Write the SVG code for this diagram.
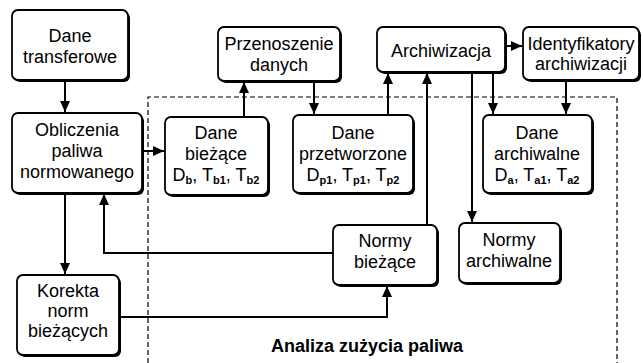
<svg xmlns="http://www.w3.org/2000/svg" width="643" height="363" viewBox="0 0 643 363">
<style>
.bx{fill:#fff;stroke:#000;stroke-width:1.8}
.sh{fill:#000}
.t{font-family:"Liberation Sans",Arial,sans-serif;font-size:18px;text-anchor:middle;fill:#000}
.s{font-size:11px;font-weight:bold}
.c{fill:none;stroke:#000;stroke-width:2}
.d{fill:none;stroke:#000;stroke-width:1.2;stroke-dasharray:5,3}
.b{font-family:"Liberation Sans",Arial,sans-serif;font-size:18px;font-weight:bold;text-anchor:middle}
</style>
<defs>
<marker id="a" markerUnits="userSpaceOnUse" markerWidth="12" markerHeight="12" viewBox="0 0 12 12" refX="11" refY="6" orient="auto">
<path d="M0,1 L11,6 L0,11 Z" fill="#000"/>
</marker>
</defs>
<rect width="643" height="363" fill="#fff"/>
<path class="d" d="M148,363 V97 H617 V363"/>
<g id="connectors">
<path class="c" d="M65,80 V112" marker-end="url(#a)"/>
<path class="c" d="M142,151 H164" marker-end="url(#a)"/>
<path class="c" d="M244,117 V82" marker-end="url(#a)"/>
<path class="c" d="M314,81 V114" marker-end="url(#a)"/>
<path class="c" d="M388,115 V73" marker-end="url(#a)"/>
<path class="c" d="M427,225 V73" marker-end="url(#a)"/>
<path class="c" d="M472,72 V222" marker-end="url(#a)"/>
<path class="c" d="M493,72 V114" marker-end="url(#a)"/>
<path class="c" d="M505,46 H522" marker-end="url(#a)"/>
<path class="c" d="M566,80 V114" marker-end="url(#a)"/>
<path class="c" d="M333,253 H104 V194" marker-end="url(#a)"/>
<path class="c" d="M65,193 V274" marker-end="url(#a)"/>
<path class="c" d="M119,317 H387 V286" marker-end="url(#a)"/>
</g>
<g id="dane-transferowe">
<rect class="sh" x="14" y="12" width="116" height="70" rx="6"/>
<rect class="bx" x="12" y="10" width="116" height="70" rx="6"/>
<text class="t" x="70" y="42">Dane</text>
<text class="t" x="70" y="63">transferowe</text>
</g>
<g id="obliczenia">
<rect class="sh" x="14" y="115" width="130" height="80" rx="6"/>
<rect class="bx" x="12" y="113" width="130" height="80" rx="6"/>
<text class="t" x="77" y="136">Obliczenia</text>
<text class="t" x="77" y="157">paliwa</text>
<text class="t" x="77" y="178">normowanego</text>
</g>
<g id="dane-biezace">
<rect class="sh" x="167" y="119" width="103" height="78" rx="6"/>
<rect class="bx" x="165" y="117" width="103" height="78" rx="6"/>
<text class="t" x="216" y="139">Dane</text>
<text class="t" x="216" y="160">bieżące</text>
<text class="t" x="216" y="181">D<tspan class="s" dy="3">b</tspan><tspan dy="-3">, T</tspan><tspan class="s" dy="3">b1</tspan><tspan dy="-3">, T</tspan><tspan class="s" dy="3">b2</tspan></text>
</g>
<g id="przenoszenie">
<rect class="sh" x="220" y="29" width="122" height="54" rx="6"/>
<rect class="bx" x="218" y="27" width="122" height="54" rx="6"/>
<text class="t" x="279" y="50">Przenoszenie</text>
<text class="t" x="279" y="71">danych</text>
</g>
<g id="dane-przetworzone">
<rect class="sh" x="295" y="117" width="120" height="78" rx="6"/>
<rect class="bx" x="293" y="115" width="120" height="78" rx="6"/>
<text class="t" x="353" y="139">Dane</text>
<text class="t" x="353" y="160">przetworzone</text>
<text class="t" x="353" y="181">D<tspan class="s" dy="3">p1</tspan><tspan dy="-3">, T</tspan><tspan class="s" dy="3">p1</tspan><tspan dy="-3">, T</tspan><tspan class="s" dy="3">p2</tspan></text>
</g>
<g id="archiwizacja">
<rect class="sh" x="379" y="29" width="128" height="45" rx="6"/>
<rect class="bx" x="377" y="27" width="128" height="45" rx="6"/>
<text class="t" x="441" y="57">Archiwizacja</text>
</g>
<g id="identyfikatory">
<rect class="sh" x="525" y="29" width="116" height="53" rx="6"/>
<rect class="bx" x="523" y="27" width="116" height="53" rx="6"/>
<text class="t" x="581" y="50">Identyfikatory</text>
<text class="t" x="581" y="70">archiwizacji</text>
</g>
<g id="dane-archiwalne">
<rect class="sh" x="485" y="117" width="109" height="78" rx="6"/>
<rect class="bx" x="483" y="115" width="109" height="78" rx="6"/>
<text class="t" x="537" y="139">Dane</text>
<text class="t" x="537" y="160">archiwalne</text>
<text class="t" x="537" y="181">D<tspan class="s" dy="3">a</tspan><tspan dy="-3">, T</tspan><tspan class="s" dy="3">a1</tspan><tspan dy="-3">, T</tspan><tspan class="s" dy="3">a2</tspan></text>
</g>
<g id="normy-biezace">
<rect class="sh" x="335" y="227" width="104" height="60" rx="6"/>
<rect class="bx" x="333" y="225" width="104" height="60" rx="6"/>
<text class="t" x="385" y="247">Normy</text>
<text class="t" x="385" y="268">bieżące</text>
</g>
<g id="normy-archiwalne">
<rect class="sh" x="461" y="225" width="101" height="60" rx="6"/>
<rect class="bx" x="459" y="223" width="101" height="60" rx="6"/>
<text class="t" x="509" y="246">Normy</text>
<text class="t" x="509" y="267">archiwalne</text>
</g>
<g id="korekta">
<rect class="sh" x="19" y="277" width="102" height="80" rx="6"/>
<rect class="bx" x="17" y="275" width="102" height="80" rx="6"/>
<text class="t" x="68" y="297">Korekta</text>
<text class="t" x="68" y="317">norm</text>
<text class="t" x="68" y="337">bieżących</text>
</g>
<text class="b" x="367" y="352">Analiza zużycia paliwa</text>
</svg>
